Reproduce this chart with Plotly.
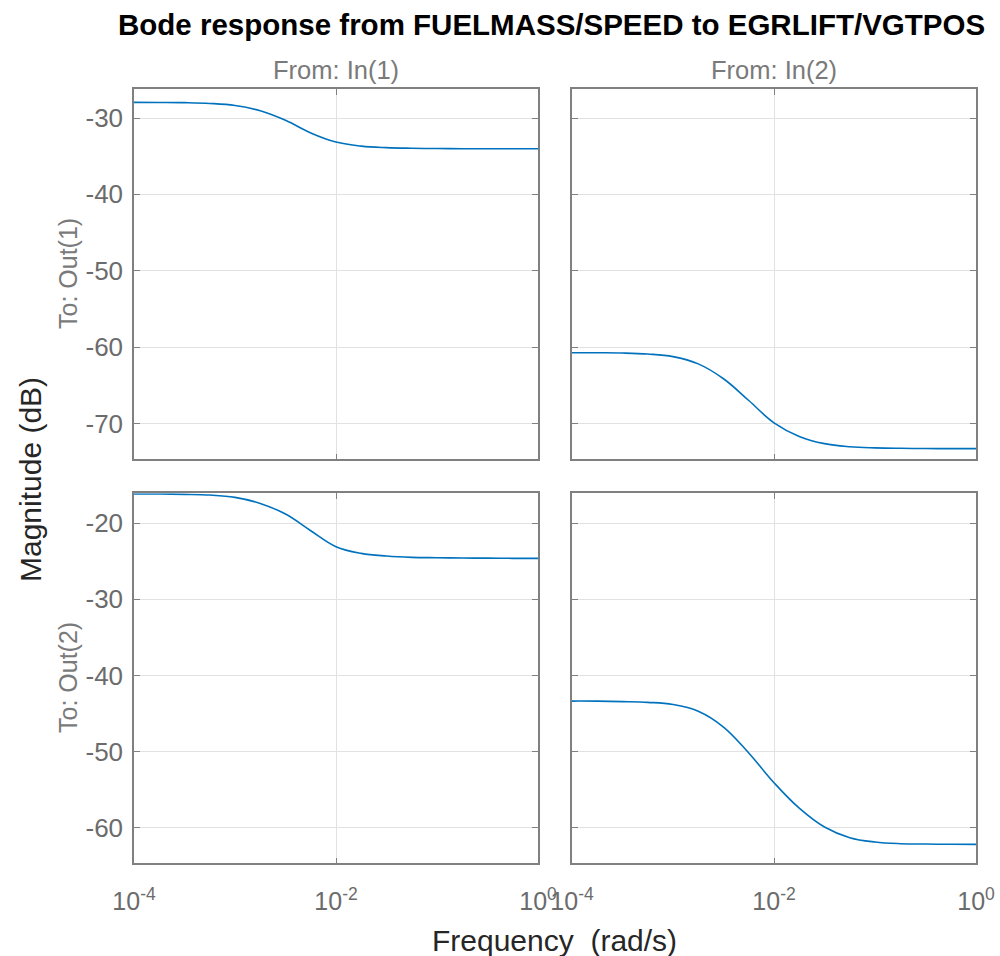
import plotly.graph_objects as go

# ---- data ----
freq = [1.0e-4, 1.778e-4, 3.162e-4, 5.623e-4, 1.0e-3, 1.778e-3, 3.162e-3, 5.623e-3,
        1.0e-2, 1.778e-2, 3.162e-2, 5.623e-2, 1.0e-1, 1.778e-1, 3.162e-1, 5.623e-1, 1.0]

mag_out1_in1 = [-27.95, -27.96, -27.99, -28.09, -28.36, -29.05, -30.30, -31.95, -33.15,
                -33.68, -33.88, -33.96, -34.00, -34.02, -34.03, -34.03, -34.03]
mag_out1_in2 = [-60.74, -60.75, -60.78, -60.91, -61.25, -62.20, -64.15, -67.00, -69.92,
                -71.70, -72.65, -73.05, -73.20, -73.26, -73.29, -73.30, -73.30]
mag_out2_in1 = [-16.15, -16.15, -16.19, -16.28, -16.59, -17.38, -18.78, -20.97, -23.07,
                -23.95, -24.30, -24.47, -24.52, -24.56, -24.58, -24.60, -24.60]
mag_out2_in2 = [-43.37, -43.38, -43.44, -43.54, -43.82, -44.70, -46.78, -50.20, -54.10,
                -57.45, -59.93, -61.33, -61.90, -62.12, -62.17, -62.20, -62.21]

x_tickvals = [1e-4, 1e-2, 1e0]
x_ticktext = ["10<sup>-4</sup>", "10<sup>-2</sup>", "10<sup>0</sup>"]
y_ticks_row1 = [-70, -60, -50, -40, -30]
y_ticks_row2 = [-60, -50, -40, -30, -20]
y_range_row1 = [-74.7, -26.2]
y_range_row2 = [-64.7, -16.05]

title_text = "Bode response from FUELMASS/SPEED to EGRLIFT/VGTPOS"
col_titles = ["From: In(1)", "From: In(2)"]
row_titles = ["To: Out(1)", "To: Out(2)"]

# ---- styling ----
FONT = "Liberation Sans, Arial, Helvetica, sans-serif"
LINE_BLUE = "#0072BD"
FRAME = "#808080"
GRID = "#e2e2e2"
TICKLBL = "#6b6b6b"

W, H = 1000, 956
xl = [134 / W, 538 / W]
xr = [572 / W, 976 / W]
yt = [1 - 459.3 / H, 1 - 89 / H]
yb = [1 - 863.3 / H, 1 - 493.3 / H]

fig = go.Figure()

panels = [
    ("x", "y", mag_out1_in1),
    ("x2", "y2", mag_out1_in2),
    ("x3", "y3", mag_out2_in1),
    ("x4", "y4", mag_out2_in2),
]
for xa, ya, mag in panels:
    fig.add_trace(go.Scatter(x=freq, y=mag, xaxis=xa, yaxis=ya, mode="lines",
                             line=dict(color=LINE_BLUE, width=1.6, shape="spline", smoothing=1.1),
                             showlegend=False, hoverinfo="skip"))


def xaxis(domain, anchor, show_labels):
    return dict(type="log", range=[-4, 0], domain=domain, anchor=anchor,
                tickvals=x_tickvals, ticktext=x_ticktext, showticklabels=show_labels,
                tickfont=dict(family=FONT, size=25, color=TICKLBL),
                showline=True, linecolor=FRAME, linewidth=1.5, mirror="ticks",
                ticks="inside", ticklen=6, tickcolor=FRAME, tickwidth=1,
                showgrid=True, gridcolor=GRID, gridwidth=1, zeroline=False,
                automargin=False, ticklabelstandoff=15)


def yaxis(domain, anchor, rng, tv, show_labels):
    return dict(range=rng, domain=domain, anchor=anchor, tickvals=tv,
                ticktext=[str(v) for v in tv],
                showticklabels=show_labels,
                tickfont=dict(family=FONT, size=26, color=TICKLBL),
                showline=True, linecolor=FRAME, linewidth=1.5, mirror="ticks",
                ticks="inside", ticklen=6, tickcolor=FRAME, tickwidth=1,
                showgrid=True, gridcolor=GRID, gridwidth=1, zeroline=False,
                automargin=False, ticklabelstandoff=4)


fig.update_layout(
    width=W, height=H, autosize=False,
    margin=dict(l=0, r=0, t=0, b=0),
    paper_bgcolor="white", plot_bgcolor="white",
    font=dict(family=FONT),
    xaxis=xaxis(xl, "y", False),
    yaxis=yaxis(yt, "x", y_range_row1, y_ticks_row1, True),
    xaxis2=xaxis(xr, "y2", False),
    yaxis2=yaxis(yt, "x2", y_range_row1, y_ticks_row1, False),
    xaxis3=xaxis(xl, "y3", True),
    yaxis3=yaxis(yb, "x3", y_range_row2, y_ticks_row2, True),
    xaxis4=xaxis(xr, "y4", True),
    yaxis4=yaxis(yb, "x4", y_range_row2, y_ticks_row2, False),
)

ann = []
ann.append(dict(text="<b>" + title_text + "</b>", x=551 / W, y=1 - 25 / H,
                xref="paper", yref="paper", xanchor="center", yanchor="middle",
                showarrow=False, font=dict(family=FONT, size=29.5, color="black")))
for t, cx in zip(col_titles, [336, 774]):
    ann.append(dict(text=t, x=cx / W, y=1 - 70 / H, xref="paper", yref="paper",
                    xanchor="center", yanchor="middle", showarrow=False,
                    font=dict(family=FONT, size=25.5, color="#7a7a7a")))
for t, cy in zip(row_titles, [274, 678]):
    ann.append(dict(text=t, x=68 / W, y=1 - cy / H, xref="paper", yref="paper",
                    xanchor="center", yanchor="middle", showarrow=False, textangle=-90,
                    font=dict(family=FONT, size=25, color="#7a7a7a")))
ann.append(dict(text="Magnitude (dB)", x=30 / W, y=1 - 480 / H, xref="paper", yref="paper",
                xanchor="center", yanchor="middle", showarrow=False, textangle=-90,
                font=dict(family=FONT, size=30, color="#262626")))
ann.append(dict(text="Frequency  (rad/s)", x=554 / W, y=1 - 940 / H, xref="paper", yref="paper",
                xanchor="center", yanchor="middle", showarrow=False,
                font=dict(family=FONT, size=30, color="#262626")))
fig.update_layout(annotations=ann)

fig.write_html("out.html", config={"displayModeBar": False},
               post_script="document.body.style.margin='0';")
